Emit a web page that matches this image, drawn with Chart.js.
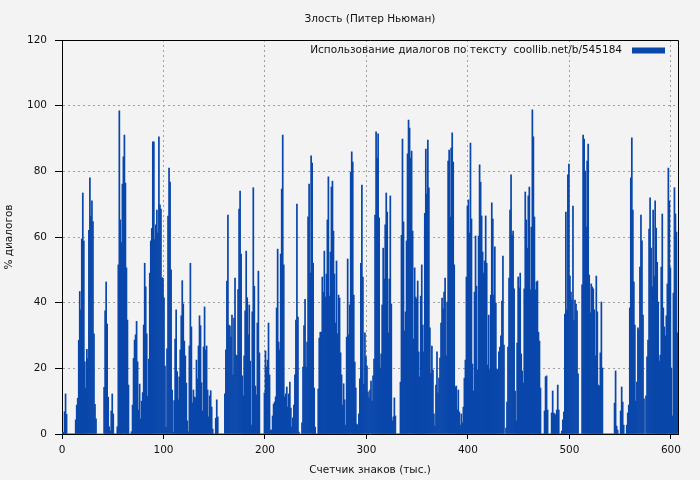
<!DOCTYPE html>
<html>
<head>
<meta charset="utf-8">
<title>Злость (Питер Ньюман)</title>
<script src="https://cdn.jsdelivr.net/npm/chart.js@4.4.1/dist/chart.umd.min.js"></script>
<style>
  html, body { margin: 0; padding: 0; background: #f3f3f3; }
  canvas { display: block; }
</style>
</head>
<body>
<canvas id="chart" width="700" height="480"></canvas>
<script>
// share of dialogue (%) for every 1000 characters of the text
var dialogShare = [
    0.5, 0.5, 6.8, 12.2, 6, 0, 0, 0, 0, 0, 0, 0, 0,
    4.3, 8.8, 10.9, 28.5, 43.4, 37.8, 59.4, 73.4, 58.8, 22, 14, 25.8, 23, 62, 78, 66.4, 71, 64.7, 30.5, 9, 4.6,
    0, 0, 0, 0, 0, 0, 0,
    14.2, 37.5, 46.3, 33.5, 11.2, 2.2, 0.9, 7, 12.2, 6.1, 0, 0, 0,
    2.2, 51.5, 98.4, 65.2, 58.3, 76.1, 84.4, 91, 76.4, 50.6, 34.7, 14.9, 0, 0,
    0.7, 8.8, 23, 28.6, 30.2, 34.3, 22, 7.3, 15.2, 4.6, 10, 12.6, 33.2, 52, 44.8, 30.5, 11.5, 22.8, 49, 58.8,
    62.6, 89, 89, 59.2, 63.7, 68.2, 61.2, 90.5, 69.8, 68.5, 47.6, 47.4, 41.5, 20.7,
    // 100
    2, 25.9, 66.4, 81, 76.7, 50, 13.4, 0.5, 10.2, 28.9, 37.8, 19, 10.4, 17.4, 25.6, 36, 46.7, 39.6, 28.3, 23.8,
    15.5, 4, 0.7, 26.8, 52, 32.6, 9.5, 13.4, 11.3, 11, 22.5, 16.8, 26.8, 36, 33, 15.6, 7, 26.5, 38.7, 25.6,
    26.8, 13.4, 5.2, 11.6, 13.2, 8.2, 1.5, 0, 0, 4.8, 10.4, 5.2, 0, 0, 0, 0, 0, 0,
    12.2, 25.6, 46.6, 66.7, 33.2, 32.9, 29.5, 36.2, 18, 35.3, 47.5, 24, 23.8, 44, 68.5, 74, 54.8, 17.7, 11.6, 23.8,
    37.5, 55.7, 41.5, 30.2, 39.3, 22.2, 2.7, 37.2, 75, 45, 14.6, 11.9, 33.8, 49.6, 24.7, 0, 0, 0, 0,
    12.5, 25.3, 20.4, 22.5, 33.8,
    // 200
    18, 1.2, 1.2, 5.5, 9.1, 9.7, 11.3, 38.4, 56.3, 28, 25.6, 54.8, 74.6, 91, 51.5, 11.3, 12.2, 14.3, 8.2, 12.2,
    15.8, 7.9, 2.1, 4.9, 8.8, 18, 34.7, 70, 35.6, 0.6, 0, 0, 3.4, 20.4, 33, 41, 20.4, 28, 66.1, 76.1,
    49, 84.7, 82.5, 52, 14, 2.1, 0, 0, 13.7, 29.2, 31, 31, 47.8, 43.1, 55.7, 41.7, 48.7, 65.2, 78.3, 42,
    55.4, 75.2, 77, 61.8, 48.7, 33.8, 52.7, 30.5, 42.3, 41.4, 24.7, 18, 8.8, 15.3, 10.4, 2.7, 29.5, 53.3, 30.2, 39.3,
    79.8, 85.9, 82.8, 42.3, 21.9, 14, 3, 2.7, 6.1, 16.8, 52, 75.8, 47.8, 15.2, 30.8, 23.5, 20.7, 12.8, 11, 13.4,
    16.1, 10,
    // 300
    17.7, 22.8, 66.7, 92, 84, 91.4, 65.8, 20.1, 24.4, 39.3, 56.6, 47.2, 63.7, 73.4, 67.6, 30.8, 47.2, 72.5, 39.6, 4,
    5.2, 11, 5.5, 0, 0, 0, 0, 15.8, 60.5, 89.8, 64.6, 31.4, 37.2, 58.8, 85.3, 95.6, 93.2, 84, 86.2, 61.8,
    28.9, 50.6, 41.7, 41.1, 46.6, 25, 17.4, 42, 51.5, 33.2, 25, 67.2, 86.8, 73.1, 89.5, 75, 32.3, 18.4, 26.8, 19.5,
    6.1, 2.4, 14.9, 25, 12.5, 17, 23.1, 33.8, 41.4, 38.1, 43.2, 47.5, 23.8, 40.2, 83.1, 86.5, 66.1, 87.1, 91.7, 82.8,
    51.5, 14.3, 14.6, 7.3, 13.4, 6.7, 2.7, 6.1, 3.4, 8.2, 17, 22.5, 47.8, 69.4, 71.3, 61.2, 88.6, 65.5, 21.3,
    // 400
    13.1, 43.2, 60.3, 45, 19.5, 60.3, 82, 76.7, 66.4, 55.4, 49, 52.7, 66.4, 52, 21, 36.2, 19.5, 42.3, 70.4, 65.5,
    42.3, 57, 39.9, 19.8, 19.5, 25, 26.5, 29.9, 40.5, 54.2, 27.1, 0, 1.8, 9.7, 26.5, 47.5, 68.2, 78.9, 60.6, 61.8,
    44.2, 13.1, 4, 27.7, 47.8, 44.5, 49, 24.4, 19.2, 15.5, 44.2, 73.7, 65.2, 56.6, 72.5, 75.2, 43.9, 63, 98.7, 90.5,
    66.1, 43.9, 46.3, 46.6, 31, 28.3, 14, 0, 0, 0, 7, 17.4, 17.7, 7.3, 0, 0, 0, 6.4, 13.1, 6.4,
    6.1, 5.8, 7.3, 14.9, 7.3, 0, 0, 0.9, 4.3, 6.7, 36.5, 67.6, 37.8, 78.9, 82.2, 48.1, 43.2, 40.8, 69.4, 34.7,
    40.8, 39.6, 37.5,
    // 500
    18.3, 0, 0, 0, 45.4, 91, 89.8, 80.1, 63, 83.1, 88.3, 48.4, 36.9, 45.7, 44.8, 44.2, 37.8, 23.8, 48.1, 37.2,
    14.9, 14.6, 24.7, 40.2, 20.1, 0, 0, 0, 0, 0, 0, 0, 0, 0, 0, 0,
    9.4, 19.2, 2.4, 1.2, 0, 0, 7, 14.3, 9.7, 2.7, 0, 0, 2.7, 6.4, 8.8, 38.4, 78, 90.2, 68.2, 46.3,
    33.2, 10, 15.8, 32.3, 31.7, 50.8, 66.7, 58.8, 36.2, 10.7, 0, 11.6, 23.5, 28.6, 62.4, 71.9, 56.6, 44.8, 68.2, 48.1,
    71, 62.7, 52.3, 40.2, 22.2, 24, 50.8, 67, 38.4, 32.6, 29.9, 36, 45.7, 81, 71, 50.6, 20.1, 5.5, 42.9, 75,
    67, 61.5, 30.8
];

var xTickValues = [0, 100, 200, 300, 400, 500, 600];
var yTickValues = [0, 20, 40, 60, 80, 100, 120];

var chartTitle = "Злость (Питер Ньюман)";
var legendLabel = "Использование диалогов по тексту  coollib.net/b/545184";
var xTitle = "Счетчик знаков (тыс.)";
var yTitle = "% диалогов";

var barColor = "#0a47ab";
var textColor = "#111111";
var gridColor = "#a0a0a0";
var fontFamily = "'DejaVu Sans', Verdana, sans-serif";

Chart.defaults.font.family = fontFamily;
Chart.defaults.font.size = 10.5;
Chart.defaults.color = textColor;

// closes the plot frame and draws the legend in the top right corner
var framePlugin = {
    id: "frame",
    afterDraw: function (chart) {
        var ctx = chart.ctx;
        var area = chart.chartArea;
        ctx.save();
        ctx.strokeStyle = "#000";
        ctx.lineWidth = 1;
        ctx.beginPath();
        ctx.moveTo(Math.round(area.left), Math.round(area.top) + 0.5);
        ctx.lineTo(Math.round(area.right) + 0.5, Math.round(area.top) + 0.5);
        ctx.lineTo(Math.round(area.right) + 0.5, Math.round(area.bottom));
        ctx.stroke();

        var boxW = 33, boxH = 6;
        var boxX = area.right - 13 - boxW;
        var midY = area.top + 10.5;
        ctx.fillStyle = barColor;
        ctx.fillRect(boxX, midY - boxH / 2, boxW, boxH);
        ctx.fillStyle = textColor;
        ctx.font = "10.5px " + fontFamily;
        ctx.textAlign = "right";
        ctx.textBaseline = "middle";
        ctx.fillText(chart.data.datasets[0].label, boxX - 10, midY);
        ctx.restore();
    }
};

var data = {
    datasets: [
        {
            label: legendLabel,
            data: dialogShare.map(function (v, i) {
                return {x: i + 0.5, y: v};
            }),
            backgroundColor: barColor,
            borderWidth: 0,
            barPercentage: 1,
            categoryPercentage: 1,
            inflateAmount: 0.35
        }
    ]
};

var config = {
    type: "bar",
    data: data,
    plugins: [framePlugin],
    options: {
        responsive: false,
        animation: false,
        devicePixelRatio: 1,
        layout: {padding: {left: 0, right: 22, top: 0, bottom: 0}},
        plugins: {
            legend: {display: false},
            tooltip: {enabled: false},
            title: {
                display: true,
                text: chartTitle,
                fullSize: false,
                color: textColor,
                font: {size: 10.5, weight: "normal"},
                padding: {top: 13, bottom: 14.4}
            }
        },
        scales: {
            x: {
                type: "linear",
                min: 0,
                max: dialogShare.length,
                offset: false,
                afterBuildTicks: function (scale) {
                    scale.ticks = xTickValues.map(function (v) { return {value: v}; });
                },
                afterFit: function (scale) { scale.height = 46; },
                ticks: {padding: 5, color: textColor, maxRotation: 0},
                grid: {
                    color: gridColor,
                    tickColor: "#000",
                    tickLength: 5,
                    tickBorderDash: [],
                    offset: false
                },
                border: {color: "#000", width: 1, dash: [2, 3]},
                title: {
                    display: true,
                    text: xTitle,
                    color: textColor,
                    padding: {top: 0, bottom: 3}
                }
            },
            y: {
                min: 0,
                max: 120,
                afterBuildTicks: function (scale) {
                    scale.ticks = yTickValues.map(function (v) { return {value: v}; });
                },
                afterFit: function (scale) { scale.width = 62; },
                ticks: {padding: 8, color: textColor},
                grid: {
                    color: gridColor,
                    tickColor: "#000",
                    tickLength: 7,
                    tickBorderDash: []
                },
                border: {color: "#000", width: 1, dash: [2, 3]},
                title: {
                    display: true,
                    text: yTitle,
                    color: textColor,
                    padding: {top: 3, bottom: 0}
                }
            }
        }
    }
};

new Chart(document.getElementById("chart"), config);
</script>
</body>
</html>
